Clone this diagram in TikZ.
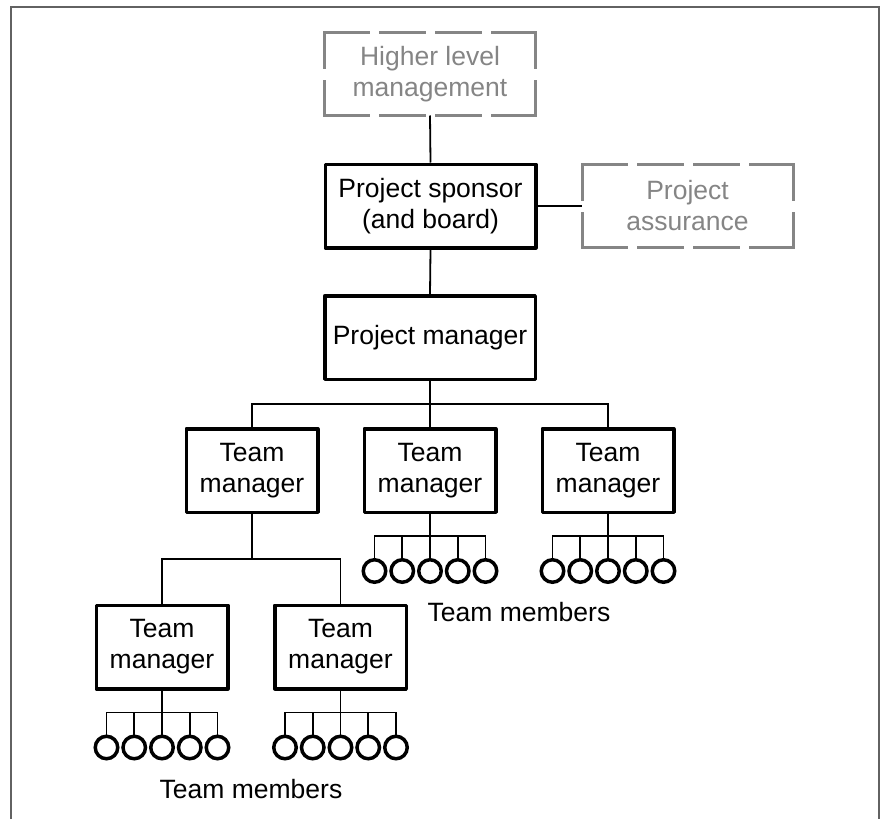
\documentclass[tikz,border=0pt]{standalone}
\usepackage{fontspec}
\setmainfont{Liberation Sans}
\usetikzlibrary{calc}

\definecolor{framegray}{HTML}{626262}
\definecolor{ghost}{HTML}{858585}

\tikzset{
  labelfont/.style={font=\fontsize{26.5}{31}\selectfont},
  box/.style={draw=black, line width=3.5pt, line join=round, minimum width=131.5pt,
    minimum height=83.5pt, inner sep=0pt, align=center, labelfont},
  widebox/.style={box, minimum width=210.5pt},
  ghostbox/.style={minimum width=211pt, minimum height=83pt, inner sep=0pt,
    outer sep=0pt, align=center, text=ghost, labelfont},
  ghostedge/.style={draw=ghost, line width=3pt, line cap=rect},
  hdash/.style={ghostedge, dash pattern=on 44pt off 12pt},
  vdash/.style={ghostedge, dash pattern=on 34.5pt off 14pt},
  link/.style={draw=black, line width=1.8pt},
  member/.style={circle, draw=black, line width=3.5pt, minimum size=22.5pt, inner sep=0pt},
  caption/.style={anchor=base, labelfont},
}

% dashed outline drawn edge by edge, so every side gets whole dashes
\newcommand\ghostoutline[1]{%
  \draw[hdash] (#1.north west) -- (#1.north east);
  \draw[hdash] (#1.south west) -- (#1.south east);
  \draw[vdash] (#1.north west) -- (#1.south west);
  \draw[vdash] (#1.north east) -- (#1.south east);
}

% five team-member circles hanging from a manager box
\newcommand\memberrow[1]{%
  \coordinate (#1-bar) at ($(#1.south)+(0,22)$);
  \foreach \k in {1,...,5}{
    \node[member] (#1-m\k) at ($(#1.south)+({(\k-3)*27.75},57)$) {};
  }
  \draw[link] (#1.south) -- (#1-bar);
  \draw[link] (#1-m1.north) -- (#1-m1.north |- #1-bar) -- (#1-m5.north |- #1-bar) -- (#1-m5.north);
  \foreach \k in {2,3,4}{
    \draw[link] (#1-m\k.north) -- (#1-m\k.north |- #1-bar);
  }
}

\begin{document}
\begin{tikzpicture}[x=1pt, y=-1pt]
  \useasboundingbox (0,0) rectangle (885,819);

  % page frame, open at the bottom
  \draw[framegray, line width=1.5pt] (11,819) -- (11,7) -- (879,7) -- (879,819);

  % governance
  \node[ghostbox] (higher) at (430,74) {Higher level\\management};
  \ghostoutline{higher}
  \node[widebox] (sponsor) at (430.5,206) {Project sponsor\\(and board)};
  \node[ghostbox] (assure) at (687.5,206) {Project\\assurance};
  \ghostoutline{assure}
  \node[widebox] (pm) at (430,337.5) {Project manager};

  % first tier of team managers
  \node[box] (tmA) at (252,470.5) {Team\\manager};
  \node[box] (tmB) at (430,470.5) {Team\\manager};
  \node[box] (tmC) at (608,470.5) {Team\\manager};

  % second tier under the left team manager
  \node[box] (tmD) at (162,647) {Team\\manager};
  \node[box] (tmE) at (340.5,647) {Team\\manager};

  % reporting lines
  \draw[link] (higher.south) -- (sponsor.north);
  \draw[link] (sponsor.east) -- (assure.west);
  \draw[link] (sponsor.south) -- (pm.north);

  \coordinate (forkPM) at ($(pm.south)+(0,23)$);
  \draw[link] (pm.south) -- (forkPM) -- (tmB.north);
  \draw[link] (tmA.north) -- (tmA.north |- forkPM) -- (tmC.north |- forkPM) -- (tmC.north);

  \coordinate (forkA) at ($(tmA.south)+(0,45)$);
  \draw[link] (tmA.south) -- (forkA);
  \draw[link] (tmD.north) -- (tmD.north |- forkA) -- (tmE.north |- forkA) -- (tmE.north);

  % team members
  \memberrow{tmB}
  \memberrow{tmC}
  \memberrow{tmD}
  \memberrow{tmE}

  \node[caption] (capTop) at (519,621) {Team members};
  \node[caption] (capBottom) at (251,798) {Team members};
\end{tikzpicture}
\end{document}
